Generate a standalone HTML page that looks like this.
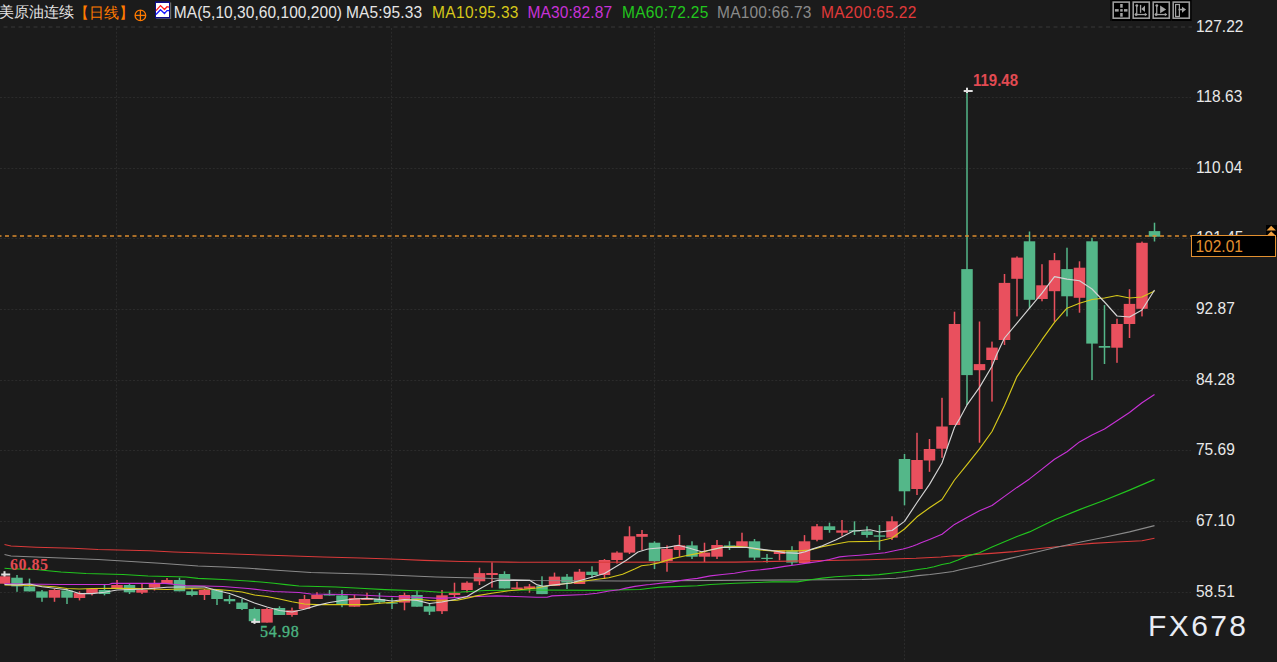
<!DOCTYPE html>
<html><head><meta charset="utf-8">
<style>
html,body{margin:0;padding:0;background:#1b1b1b;width:1277px;height:662px;overflow:hidden;}
body{position:relative;font-family:"Liberation Sans",sans-serif;}
svg.chart{position:absolute;left:0;top:0;}
.t{position:absolute;white-space:nowrap;line-height:1;}
.ax{position:absolute;left:1196px;color:#e8e8e8;font-size:15.5px;line-height:1;transform:scaleY(1.12);transform-origin:0 50%;}
</style></head><body>
<svg class="chart" width="1277" height="662" viewBox="0 0 1277 662">
<line x1="0" y1="27" x2="1192" y2="27" stroke="#2f2f2f" stroke-width="1.6" stroke-dasharray="4 3.5" stroke-dashoffset="4"/>
<line x1="0" y1="97.5" x2="1191" y2="97.5" stroke="#2b2b2b" stroke-width="1" stroke-dasharray="2 1.8"/>
<line x1="0" y1="168.5" x2="1191" y2="168.5" stroke="#2b2b2b" stroke-width="1" stroke-dasharray="2 1.8"/>
<line x1="0" y1="238.5" x2="1191" y2="238.5" stroke="#2b2b2b" stroke-width="1" stroke-dasharray="2 1.8"/>
<line x1="0" y1="309.5" x2="1191" y2="309.5" stroke="#2b2b2b" stroke-width="1" stroke-dasharray="2 1.8"/>
<line x1="0" y1="380.5" x2="1191" y2="380.5" stroke="#2b2b2b" stroke-width="1" stroke-dasharray="2 1.8"/>
<line x1="0" y1="450.5" x2="1191" y2="450.5" stroke="#2b2b2b" stroke-width="1" stroke-dasharray="2 1.8"/>
<line x1="0" y1="521.5" x2="1191" y2="521.5" stroke="#2b2b2b" stroke-width="1" stroke-dasharray="2 1.8"/>
<line x1="0" y1="592.5" x2="1191" y2="592.5" stroke="#2b2b2b" stroke-width="1" stroke-dasharray="2 1.8"/>
<line x1="116.5" y1="28" x2="116.5" y2="662" stroke="#2b2b2b" stroke-width="1" stroke-dasharray="2 1.75"/>
<line x1="391.5" y1="28" x2="391.5" y2="662" stroke="#2b2b2b" stroke-width="1" stroke-dasharray="2 1.75"/>
<line x1="654.5" y1="28" x2="654.5" y2="662" stroke="#2b2b2b" stroke-width="1" stroke-dasharray="2 1.75"/>
<line x1="904.5" y1="28" x2="904.5" y2="662" stroke="#2b2b2b" stroke-width="1" stroke-dasharray="2 1.75"/>
<rect x="3.75" y="574.5" width="1.5" height="9.5" fill="#e9505e"/>
<rect x="-1.25" y="576.3" width="11.5" height="7.4" fill="#e9505e"/>
<rect x="16.25" y="575.0" width="1.5" height="16.8" fill="#54b789"/>
<rect x="11.25" y="577.7" width="11.5" height="8.7" fill="#54b789"/>
<rect x="28.75" y="578.6" width="1.5" height="12.8" fill="#54b789"/>
<rect x="23.75" y="586.4" width="11.5" height="5.0" fill="#54b789"/>
<rect x="41.25" y="590.0" width="1.5" height="11.8" fill="#54b789"/>
<rect x="36.25" y="591.4" width="11.5" height="6.3" fill="#54b789"/>
<rect x="53.75" y="589.0" width="1.5" height="12.8" fill="#e9505e"/>
<rect x="48.75" y="590.0" width="11.5" height="7.7" fill="#e9505e"/>
<rect x="66.25" y="589.0" width="1.5" height="15.0" fill="#54b789"/>
<rect x="61.25" y="590.5" width="11.5" height="7.2" fill="#54b789"/>
<rect x="78.75" y="591.3" width="1.5" height="9.1" fill="#e9505e"/>
<rect x="73.75" y="593.1" width="11.5" height="4.9" fill="#e9505e"/>
<rect x="91.25" y="589.0" width="1.5" height="6.4" fill="#e9505e"/>
<rect x="86.25" y="589.0" width="11.5" height="4.1" fill="#e9505e"/>
<rect x="103.75" y="585.0" width="1.5" height="10.4" fill="#54b789"/>
<rect x="98.75" y="590.0" width="11.5" height="4.0" fill="#54b789"/>
<rect x="116.25" y="580.0" width="1.5" height="9.0" fill="#e9505e"/>
<rect x="111.25" y="585.0" width="11.5" height="4.0" fill="#e9505e"/>
<rect x="128.75" y="584.0" width="1.5" height="10.0" fill="#54b789"/>
<rect x="123.75" y="585.0" width="11.5" height="7.3" fill="#54b789"/>
<rect x="141.25" y="583.6" width="1.5" height="10.4" fill="#e9505e"/>
<rect x="136.25" y="590.0" width="11.5" height="2.7" fill="#e9505e"/>
<rect x="153.75" y="580.0" width="1.5" height="10.5" fill="#e9505e"/>
<rect x="148.75" y="584.0" width="11.5" height="3.7" fill="#e9505e"/>
<rect x="166.25" y="578.0" width="1.5" height="6.0" fill="#e9505e"/>
<rect x="161.25" y="580.0" width="11.5" height="4.0" fill="#e9505e"/>
<rect x="178.75" y="577.7" width="1.5" height="13.6" fill="#54b789"/>
<rect x="173.75" y="580.0" width="11.5" height="11.3" fill="#54b789"/>
<rect x="191.25" y="589.0" width="1.5" height="7.3" fill="#54b789"/>
<rect x="186.25" y="591.3" width="11.5" height="3.7" fill="#54b789"/>
<rect x="203.75" y="589.0" width="1.5" height="11.0" fill="#e9505e"/>
<rect x="198.75" y="590.0" width="11.5" height="5.0" fill="#e9505e"/>
<rect x="216.25" y="590.0" width="1.5" height="15.0" fill="#54b789"/>
<rect x="211.25" y="590.0" width="11.5" height="9.0" fill="#54b789"/>
<rect x="228.75" y="595.0" width="1.5" height="9.0" fill="#54b789"/>
<rect x="223.75" y="599.0" width="11.5" height="2.3" fill="#54b789"/>
<rect x="241.25" y="599.0" width="1.5" height="11.0" fill="#54b789"/>
<rect x="236.25" y="602.6" width="11.5" height="6.4" fill="#54b789"/>
<rect x="253.75" y="607.6" width="1.5" height="14.4" fill="#54b789"/>
<rect x="248.75" y="609.0" width="11.5" height="12.2" fill="#54b789"/>
<rect x="266.25" y="608.0" width="1.5" height="14.6" fill="#e9505e"/>
<rect x="261.25" y="609.0" width="11.5" height="13.6" fill="#e9505e"/>
<rect x="278.75" y="606.3" width="1.5" height="8.7" fill="#54b789"/>
<rect x="273.75" y="608.0" width="11.5" height="7.0" fill="#54b789"/>
<rect x="291.25" y="607.6" width="1.5" height="9.1" fill="#e9505e"/>
<rect x="286.25" y="610.3" width="11.5" height="4.7" fill="#e9505e"/>
<rect x="303.75" y="595.0" width="1.5" height="14.0" fill="#e9505e"/>
<rect x="298.75" y="599.0" width="11.5" height="10.0" fill="#e9505e"/>
<rect x="316.25" y="592.2" width="1.5" height="6.8" fill="#e9505e"/>
<rect x="311.25" y="595.0" width="11.5" height="4.0" fill="#e9505e"/>
<rect x="328.75" y="590.0" width="1.5" height="5.5" fill="#54b789"/>
<rect x="323.75" y="594.0" width="11.5" height="1.5" fill="#54b789"/>
<rect x="341.25" y="590.0" width="1.5" height="17.2" fill="#54b789"/>
<rect x="336.25" y="595.4" width="11.5" height="9.6" fill="#54b789"/>
<rect x="353.75" y="595.0" width="1.5" height="11.7" fill="#e9505e"/>
<rect x="348.75" y="598.0" width="11.5" height="8.7" fill="#e9505e"/>
<rect x="366.25" y="592.7" width="1.5" height="7.3" fill="#e9505e"/>
<rect x="361.25" y="598.0" width="11.5" height="2.0" fill="#e9505e"/>
<rect x="378.75" y="592.7" width="1.5" height="11.3" fill="#54b789"/>
<rect x="373.75" y="599.0" width="11.5" height="3.2" fill="#54b789"/>
<rect x="391.25" y="597.6" width="1.5" height="11.4" fill="#54b789"/>
<rect x="386.25" y="602.5" width="11.5" height="1.2" fill="#54b789"/>
<rect x="403.75" y="592.7" width="1.5" height="17.6" fill="#e9505e"/>
<rect x="398.75" y="595.0" width="11.5" height="7.6" fill="#e9505e"/>
<rect x="416.25" y="590.8" width="1.5" height="15.9" fill="#54b789"/>
<rect x="411.25" y="595.0" width="11.5" height="11.7" fill="#54b789"/>
<rect x="428.75" y="603.0" width="1.5" height="12.0" fill="#54b789"/>
<rect x="423.75" y="606.2" width="11.5" height="5.5" fill="#54b789"/>
<rect x="441.25" y="590.0" width="1.5" height="24.0" fill="#e9505e"/>
<rect x="436.25" y="595.3" width="11.5" height="15.9" fill="#e9505e"/>
<rect x="453.75" y="582.7" width="1.5" height="14.9" fill="#e9505e"/>
<rect x="448.75" y="593.0" width="11.5" height="2.0" fill="#e9505e"/>
<rect x="466.25" y="581.3" width="1.5" height="11.3" fill="#e9505e"/>
<rect x="461.25" y="582.7" width="11.5" height="7.3" fill="#e9505e"/>
<rect x="478.75" y="567.7" width="1.5" height="17.3" fill="#e9505e"/>
<rect x="473.75" y="573.1" width="11.5" height="8.2" fill="#e9505e"/>
<rect x="491.25" y="562.3" width="1.5" height="25.3" fill="#e9505e"/>
<rect x="486.25" y="573.0" width="11.5" height="2.0" fill="#e9505e"/>
<rect x="503.75" y="571.3" width="1.5" height="17.2" fill="#54b789"/>
<rect x="498.75" y="574.0" width="11.5" height="14.5" fill="#54b789"/>
<rect x="516.25" y="581.8" width="1.5" height="7.2" fill="#e9505e"/>
<rect x="511.25" y="587.5" width="11.5" height="1.5" fill="#e9505e"/>
<rect x="528.75" y="584.0" width="1.5" height="8.7" fill="#e9505e"/>
<rect x="523.75" y="586.4" width="11.5" height="2.4" fill="#e9505e"/>
<rect x="541.25" y="576.3" width="1.5" height="17.8" fill="#54b789"/>
<rect x="536.25" y="585.9" width="11.5" height="8.2" fill="#54b789"/>
<rect x="553.75" y="572.6" width="1.5" height="13.3" fill="#e9505e"/>
<rect x="548.75" y="576.6" width="11.5" height="9.3" fill="#e9505e"/>
<rect x="566.25" y="574.0" width="1.5" height="15.0" fill="#54b789"/>
<rect x="561.25" y="576.7" width="11.5" height="5.9" fill="#54b789"/>
<rect x="578.75" y="569.0" width="1.5" height="15.0" fill="#e9505e"/>
<rect x="573.75" y="571.7" width="11.5" height="12.3" fill="#e9505e"/>
<rect x="591.25" y="566.3" width="1.5" height="11.7" fill="#54b789"/>
<rect x="586.25" y="571.7" width="11.5" height="3.3" fill="#54b789"/>
<rect x="603.75" y="559.0" width="1.5" height="20.0" fill="#e9505e"/>
<rect x="598.75" y="560.0" width="11.5" height="15.0" fill="#e9505e"/>
<rect x="616.25" y="551.3" width="1.5" height="12.2" fill="#e9505e"/>
<rect x="611.25" y="552.6" width="11.5" height="7.4" fill="#e9505e"/>
<rect x="628.75" y="526.3" width="1.5" height="27.7" fill="#e9505e"/>
<rect x="623.75" y="536.3" width="11.5" height="16.3" fill="#e9505e"/>
<rect x="641.25" y="530.0" width="1.5" height="20.0" fill="#e9505e"/>
<rect x="636.25" y="534.0" width="11.5" height="2.8" fill="#e9505e"/>
<rect x="653.75" y="541.3" width="1.5" height="27.7" fill="#54b789"/>
<rect x="648.75" y="542.7" width="11.5" height="18.5" fill="#54b789"/>
<rect x="666.25" y="545.4" width="1.5" height="26.3" fill="#e9505e"/>
<rect x="661.25" y="549.0" width="11.5" height="12.2" fill="#e9505e"/>
<rect x="678.75" y="535.0" width="1.5" height="21.7" fill="#e9505e"/>
<rect x="673.75" y="545.4" width="11.5" height="4.6" fill="#e9505e"/>
<rect x="691.25" y="541.3" width="1.5" height="17.7" fill="#54b789"/>
<rect x="686.25" y="545.4" width="11.5" height="11.3" fill="#54b789"/>
<rect x="703.75" y="542.7" width="1.5" height="19.3" fill="#e9505e"/>
<rect x="698.75" y="552.6" width="11.5" height="4.1" fill="#e9505e"/>
<rect x="716.25" y="540.0" width="1.5" height="19.0" fill="#e9505e"/>
<rect x="711.25" y="545.0" width="11.5" height="11.7" fill="#e9505e"/>
<rect x="728.75" y="541.3" width="1.5" height="8.7" fill="#54b789"/>
<rect x="723.75" y="545.4" width="11.5" height="2.6" fill="#54b789"/>
<rect x="741.25" y="532.7" width="1.5" height="14.0" fill="#e9505e"/>
<rect x="736.25" y="541.3" width="11.5" height="5.4" fill="#e9505e"/>
<rect x="753.75" y="539.0" width="1.5" height="21.0" fill="#54b789"/>
<rect x="748.75" y="541.3" width="11.5" height="16.3" fill="#54b789"/>
<rect x="766.25" y="554.0" width="1.5" height="8.6" fill="#54b789"/>
<rect x="761.25" y="557.8" width="11.5" height="1.2" fill="#54b789"/>
<rect x="778.75" y="550.4" width="1.5" height="9.9" fill="#e9505e"/>
<rect x="773.75" y="550.4" width="11.5" height="3.6" fill="#e9505e"/>
<rect x="791.25" y="546.2" width="1.5" height="18.7" fill="#54b789"/>
<rect x="786.25" y="550.5" width="11.5" height="12.1" fill="#54b789"/>
<rect x="803.75" y="535.1" width="1.5" height="28.1" fill="#e9505e"/>
<rect x="798.75" y="541.3" width="11.5" height="21.9" fill="#e9505e"/>
<rect x="816.25" y="524.0" width="1.5" height="17.3" fill="#e9505e"/>
<rect x="811.25" y="526.3" width="11.5" height="13.5" fill="#e9505e"/>
<rect x="828.75" y="522.7" width="1.5" height="10.0" fill="#54b789"/>
<rect x="823.75" y="526.3" width="11.5" height="3.7" fill="#54b789"/>
<rect x="841.25" y="520.0" width="1.5" height="15.8" fill="#e9505e"/>
<rect x="836.25" y="530.4" width="11.5" height="2.3" fill="#e9505e"/>
<rect x="853.75" y="521.3" width="1.5" height="13.7" fill="#54b789"/>
<rect x="848.75" y="530.3" width="11.5" height="1.2" fill="#54b789"/>
<rect x="866.25" y="526.3" width="1.5" height="11.3" fill="#54b789"/>
<rect x="861.25" y="531.3" width="11.5" height="3.7" fill="#54b789"/>
<rect x="878.75" y="525.0" width="1.5" height="25.0" fill="#54b789"/>
<rect x="873.75" y="535.4" width="11.5" height="1.3" fill="#54b789"/>
<rect x="891.25" y="516.3" width="1.5" height="23.7" fill="#e9505e"/>
<rect x="886.25" y="521.3" width="11.5" height="16.3" fill="#e9505e"/>
<rect x="903.75" y="454.0" width="1.5" height="51.3" fill="#54b789"/>
<rect x="898.75" y="459.0" width="11.5" height="32.3" fill="#54b789"/>
<rect x="916.25" y="432.8" width="1.5" height="62.2" fill="#e9505e"/>
<rect x="911.25" y="460.0" width="11.5" height="29.0" fill="#e9505e"/>
<rect x="928.75" y="439.0" width="1.5" height="32.8" fill="#e9505e"/>
<rect x="923.75" y="449.0" width="11.5" height="11.5" fill="#e9505e"/>
<rect x="941.25" y="397.8" width="1.5" height="60.0" fill="#e9505e"/>
<rect x="936.25" y="426.5" width="11.5" height="22.2" fill="#e9505e"/>
<rect x="953.75" y="311.7" width="1.5" height="113.3" fill="#e9505e"/>
<rect x="948.75" y="324.0" width="11.5" height="101.0" fill="#e9505e"/>
<rect x="966.25" y="90.0" width="1.5" height="315.0" fill="#54b789"/>
<rect x="961.25" y="269.1" width="11.5" height="106.0" fill="#54b789"/>
<rect x="978.75" y="321.5" width="1.5" height="121.2" fill="#e9505e"/>
<rect x="973.75" y="364.1" width="11.5" height="6.1" fill="#e9505e"/>
<rect x="991.25" y="341.6" width="1.5" height="60.0" fill="#e9505e"/>
<rect x="986.25" y="347.6" width="11.5" height="12.4" fill="#e9505e"/>
<rect x="1003.75" y="274.0" width="1.5" height="71.0" fill="#e9505e"/>
<rect x="998.75" y="282.9" width="11.5" height="57.1" fill="#e9505e"/>
<rect x="1016.25" y="256.4" width="1.5" height="60.0" fill="#e9505e"/>
<rect x="1011.25" y="257.6" width="11.5" height="21.2" fill="#e9505e"/>
<rect x="1028.75" y="231.5" width="1.5" height="77.0" fill="#54b789"/>
<rect x="1023.75" y="241.3" width="11.5" height="58.5" fill="#54b789"/>
<rect x="1041.25" y="264.2" width="1.5" height="37.1" fill="#e9505e"/>
<rect x="1036.25" y="285.3" width="11.5" height="13.7" fill="#e9505e"/>
<rect x="1053.75" y="253.0" width="1.5" height="68.7" fill="#e9505e"/>
<rect x="1048.75" y="260.2" width="11.5" height="31.0" fill="#e9505e"/>
<rect x="1066.25" y="247.7" width="1.5" height="68.7" fill="#54b789"/>
<rect x="1061.25" y="269.1" width="11.5" height="27.2" fill="#54b789"/>
<rect x="1078.75" y="261.3" width="1.5" height="51.4" fill="#e9505e"/>
<rect x="1073.75" y="267.7" width="11.5" height="30.1" fill="#e9505e"/>
<rect x="1091.25" y="237.8" width="1.5" height="142.2" fill="#54b789"/>
<rect x="1086.25" y="241.3" width="11.5" height="102.3" fill="#54b789"/>
<rect x="1103.75" y="305.1" width="1.5" height="58.9" fill="#54b789"/>
<rect x="1098.75" y="346.0" width="11.5" height="1.7" fill="#54b789"/>
<rect x="1116.25" y="318.7" width="1.5" height="44.1" fill="#e9505e"/>
<rect x="1111.25" y="324.0" width="11.5" height="23.7" fill="#e9505e"/>
<rect x="1128.75" y="289.2" width="1.5" height="48.8" fill="#e9505e"/>
<rect x="1123.75" y="303.9" width="11.5" height="20.1" fill="#e9505e"/>
<rect x="1141.25" y="241.6" width="1.5" height="74.8" fill="#e9505e"/>
<rect x="1136.25" y="242.8" width="11.5" height="66.0" fill="#e9505e"/>
<rect x="1153.75" y="222.7" width="1.5" height="18.8" fill="#54b789"/>
<rect x="1148.75" y="231.1" width="11.5" height="5.6" fill="#54b789"/>
<polyline points="4.5,544.5 11.0,546.0 36.0,547.2 73.0,548.3 98.0,549.5 150.0,550.7 173.5,552.0 211.0,553.3 248.0,554.5 286.0,555.8 323.0,557.0 361.0,558.0 398.0,559.2 424.0,560.4 461.0,561.5 520.0,562.2 735.0,562.1 868.0,559.7 916.0,558.3 941.0,557.0 954.0,555.8 960.5,555.8 972.5,554.6 995.0,553.1 1014.0,551.6 1029.5,549.8 1042.0,548.2 1054.5,547.0 1067.0,545.8 1079.5,544.5 1092.0,543.4 1117.0,542.0 1142.0,540.7 1154.5,538.3" fill="none" stroke="#d93a3a" stroke-width="1.15" stroke-linejoin="round"/>
<polyline points="4.5,554.5 11.0,556.0 36.0,557.0 98.0,559.5 160.0,563.3 198.0,566.0 224.0,567.0 249.0,568.3 273.0,570.0 311.0,572.5 373.0,574.3 436.0,577.0 486.0,578.3 535.0,580.5 621.0,581.0 862.0,579.5 896.0,578.2 910.0,576.8 918.0,575.6 930.0,574.5 942.0,573.0 953.0,571.5 960.0,569.8 981.6,565.2 1010.0,558.4 1029.5,553.8 1054.5,547.8 1079.5,542.2 1104.5,537.2 1129.5,531.9 1154.5,525.6" fill="none" stroke="#8a8a8a" stroke-width="1.15" stroke-linejoin="round"/>
<polyline points="4.5,568.3 11.0,568.8 36.0,569.5 48.0,570.7 61.0,572.0 86.0,573.5 123.0,574.5 148.0,576.0 186.0,577.0 198.0,578.4 223.0,579.5 248.0,581.0 261.0,582.0 274.0,583.3 286.0,584.6 299.0,586.0 336.0,587.0 360.0,588.3 385.0,589.6 423.0,591.0 440.0,592.2 461.0,592.0 486.0,590.5 530.0,590.0 600.0,590.3 640.0,589.5 650.0,588.3 660.3,587.1 697.4,585.7 710.3,584.5 735.3,583.3 772.4,581.9 797.4,581.9 810.3,579.7 822.4,578.1 835.3,576.7 859.5,575.3 870.0,575.3 879.0,574.6 891.0,573.2 902.0,572.0 910.0,570.7 918.0,569.5 927.0,568.2 934.0,566.8 942.0,564.5 950.0,563.0 958.0,560.0 967.0,556.1 979.5,552.8 992.0,547.0 1004.5,541.8 1017.0,536.5 1029.5,531.9 1054.5,519.8 1079.5,509.6 1104.5,500.2 1129.5,490.1 1154.5,479.4" fill="none" stroke="#22c51e" stroke-width="1.15" stroke-linejoin="round"/>
<polyline points="4.5,583.7 60.0,584.5 109.0,584.5 112.0,583.4 165.0,583.4 175.0,584.5 186.0,585.5 223.0,586.5 248.0,588.5 261.0,590.0 274.0,591.5 299.0,592.5 311.0,594.0 345.0,594.5 360.0,595.0 385.0,596.3 423.0,597.5 440.0,598.4 469.3,596.7 497.0,595.9 536.5,597.2 547.0,597.2 552.0,595.9 585.0,594.5 597.0,593.3 609.0,591.0 619.3,589.8 626.0,588.1 635.0,586.4 647.0,584.7 650.0,584.5 672.4,581.9 685.3,579.7 697.4,578.4 710.3,575.9 722.4,574.5 734.5,573.3 747.4,571.0 760.3,569.8 772.4,568.4 784.5,566.4 796.6,564.7 808.6,562.9 820.7,561.2 829.3,559.5 839.7,556.9 848.3,556.0 859.5,555.2 870.0,554.3 885.0,552.8 892.0,551.2 898.0,550.0 903.0,549.0 908.5,547.5 913.0,546.0 917.0,544.5 921.0,542.8 929.5,539.5 942.0,534.2 954.5,524.4 967.0,517.6 979.5,510.8 992.0,505.5 1004.5,496.4 1017.0,487.4 1029.5,478.9 1042.0,469.1 1054.5,459.3 1067.0,451.8 1079.5,441.9 1092.0,435.1 1104.5,429.1 1117.0,420.8 1129.5,412.5 1142.0,402.7 1154.5,394.4" fill="none" stroke="#c832d6" stroke-width="1.15" stroke-linejoin="round"/>
<polyline points="4.5,585.0 29.5,585.5 42.0,586.0 54.5,586.8 67.0,588.5 79.5,589.0 92.0,588.5 117.0,588.2 142.0,588.6 167.0,589.5 192.0,588.5 217.0,589.5 229.5,590.5 242.0,592.0 254.5,595.0 267.0,596.5 279.5,599.0 292.0,601.8 304.5,604.0 317.0,604.6 342.0,604.6 367.0,604.6 379.5,603.3 392.0,602.4 404.5,600.5 417.0,599.3 429.5,600.5 440.0,601.0 457.2,600.2 469.3,597.6 476.0,595.9 491.7,593.3 509.0,590.7 536.5,588.0 550.0,585.5 571.0,583.0 590.0,580.3 608.8,577.7 622.6,574.3 634.6,569.0 641.5,565.7 650.0,564.7 658.6,562.9 672.4,558.6 684.5,556.0 698.3,553.4 710.3,550.0 722.4,547.4 736.2,546.2 748.3,547.4 760.3,550.0 772.4,550.9 798.3,550.9 810.3,550.0 822.4,546.6 836.2,544.0 848.3,541.7 870.0,541.4 879.5,541.0 892.0,538.0 904.5,529.0 917.0,516.8 929.5,507.8 942.0,499.5 954.5,480.0 967.0,464.7 979.5,448.9 992.0,431.5 1004.5,405.5 1017.0,376.6 1029.5,358.0 1042.0,339.7 1054.5,322.3 1067.0,308.2 1079.5,303.2 1092.0,299.5 1104.5,298.0 1117.0,295.5 1129.5,298.0 1142.0,297.0 1154.5,291.0" fill="none" stroke="#d6c81a" stroke-width="1.15" stroke-linejoin="round"/>
<polyline points="4.5,584.5 17.0,585.0 29.5,584.0 42.0,586.8 54.5,588.2 67.0,589.8 73.0,591.5 79.5,593.6 92.0,593.6 104.5,592.3 117.0,590.0 129.5,589.5 142.0,589.1 154.5,588.2 167.0,587.3 179.5,587.0 192.0,587.0 204.5,587.0 217.0,590.5 229.5,593.5 242.0,598.0 254.5,603.0 267.0,607.0 279.5,610.5 292.0,612.0 304.5,609.3 317.0,605.4 329.5,602.5 342.0,600.5 354.5,599.0 367.0,598.4 379.5,599.4 392.0,601.0 404.5,599.5 417.0,600.4 429.5,603.5 442.0,602.0 454.5,599.5 467.0,596.5 479.5,589.0 492.0,582.0 498.0,580.3 529.5,580.3 536.5,584.6 543.0,586.3 557.0,584.6 571.0,583.0 590.0,577.7 604.5,573.5 612.0,569.0 626.0,560.5 638.0,552.0 647.0,549.3 650.0,548.8 667.2,547.4 678.4,545.2 689.7,548.3 701.7,551.7 710.3,550.0 722.4,547.4 746.6,547.4 760.3,549.1 774.1,550.9 784.5,552.6 798.3,553.4 805.2,551.7 812.0,549.1 822.4,545.7 836.2,539.7 853.4,531.0 870.0,529.7 879.5,532.0 892.0,530.5 904.5,521.4 917.0,502.5 929.5,484.4 942.0,463.0 948.3,444.8 954.5,427.3 959.9,418.2 967.0,404.9 979.5,387.4 992.0,366.3 996.6,354.7 1004.5,338.0 1017.0,323.1 1029.5,308.2 1042.0,293.2 1054.5,276.6 1067.0,279.1 1079.5,280.8 1092.0,289.0 1104.5,302.0 1117.0,316.0 1129.5,317.0 1142.0,310.0 1154.5,290.0" fill="none" stroke="#d4d4d4" stroke-width="1.15" stroke-linejoin="round"/>
<line x1="0" y1="236" x2="1191" y2="236" stroke="#dc8c2e" stroke-width="1.6" stroke-dasharray="4 3.5" stroke-dashoffset="2.5"/>
<rect x="1.2" y="573.5" width="9" height="2" fill="#e0e0e0"/><rect x="3.5" y="571.2" width="2" height="5.3" fill="#e0e0e0"/>
<rect x="963.7" y="90.0" width="9" height="2" fill="#e0e0e0"/><rect x="966.0" y="87.7" width="2" height="5.3" fill="#e0e0e0"/>
<rect x="251.2" y="620.9" width="9" height="2" fill="#e0e0e0"/><rect x="253.5" y="618.6" width="2" height="5.3" fill="#e0e0e0"/>
</svg>
<div class="t" style="left:-1px;top:4px;font-size:15px;color:#e6e6e6;">美原油连续</div>
<div class="t" style="left:73.5px;top:4.5px;font-size:15px;color:#ff7a00;">【日线】</div>
<svg style="position:absolute;left:134px;top:8.5px" width="13" height="13"><circle cx="6.4" cy="6.4" r="5.3" fill="none" stroke="#ff7a00" stroke-width="1.3"/><line x1="1" y1="6.4" x2="11.8" y2="6.4" stroke="#ff7a00" stroke-width="1.3"/><line x1="6.4" y1="1" x2="6.4" y2="11.8" stroke="#ff7a00" stroke-width="1.3"/></svg>
<svg style="position:absolute;left:155px;top:1px" width="17" height="19"><rect x="1.2" y="1.5" width="15" height="16.5" fill="#6a6a6a"/><rect x="0" y="0.4" width="15" height="17" fill="#0c0c8a"/><rect x="1" y="2" width="13" height="14" fill="#fff"/><polyline points="1,9.6 5.5,4.6 9.5,8.5 12,5.7 14,6.1" fill="none" stroke="#ff1a1a" stroke-width="1.3"/><polyline points="1,13.5 5.5,8.7 9.5,12.5 12,9.6 14,9.6" fill="none" stroke="#1a1aff" stroke-width="1.3"/></svg>
<div class="t" style="left:173.8px;top:4.2px;font-size:15.5px;letter-spacing:0.05px;transform:scaleY(1.1);transform-origin:0 0;color:#e6e6e6;">MA(5,10,30,60,100,200)</div>
<div class="t" style="left:346px;top:4.2px;font-size:15.5px;letter-spacing:0.13px;transform:scaleY(1.1);transform-origin:0 0;color:#e6e6e6;">MA5:95.33</div>
<div class="t" style="left:432.1px;top:4.2px;font-size:15.5px;letter-spacing:0.31px;transform:scaleY(1.1);transform-origin:0 0;color:#d6c81a;">MA10:95.33</div>
<div class="t" style="left:527.5px;top:4.2px;font-size:15.5px;letter-spacing:0.11px;transform:scaleY(1.1);transform-origin:0 0;color:#c832d6;">MA30:82.87</div>
<div class="t" style="left:622px;top:4.2px;font-size:15.5px;letter-spacing:0.3px;transform:scaleY(1.1);transform-origin:0 0;color:#22c51e;">MA60:72.25</div>
<div class="t" style="left:717px;top:4.2px;font-size:15.5px;letter-spacing:0.22px;transform:scaleY(1.1);transform-origin:0 0;color:#8a8a8a;">MA100:66.73</div>
<div class="t" style="left:820.9px;top:4.2px;font-size:15.5px;letter-spacing:0.33px;transform:scaleY(1.1);transform-origin:0 0;color:#e03a3a;">MA200:65.22</div>
<div class="ax" style="top:17.5px">127.22</div>
<div class="ax" style="top:88.1px">118.63</div>
<div class="ax" style="top:158.8px">110.04</div>
<div class="ax" style="top:229.4px">101.45</div>
<div class="ax" style="top:300.0px">92.87</div>
<div class="ax" style="top:370.6px">84.28</div>
<div class="ax" style="top:441.2px">75.69</div>
<div class="ax" style="top:511.9px">67.10</div>
<div class="ax" style="top:582.5px">58.51</div>

<svg style="position:absolute;left:1266px;top:224.5px" width="11" height="12"><rect width="11" height="12" fill="#000"/><polygon points="0.5,5.5 5.2,0.7 10,5.5" fill="#eea040"/><polygon points="0.5,11 5.2,6.3 10,11" fill="#eea040"/></svg>
<div style="position:absolute;left:1191px;top:235px;width:83px;height:20px;border:1.5px solid #e39030;background:#000;"></div>
<div class="t" style="left:1195.5px;top:237.7px;font-size:15.5px;transform:scaleY(1.08);transform-origin:0 0;color:#e39030;">102.01</div>
<div class="t" style="left:973px;top:72.3px;font-size:15px;font-weight:bold;transform:scaleY(1.06);transform-origin:0 0;color:#e24a52;">119.48</div>
<div class="t" style="left:10px;top:557px;font-family:'Liberation Serif',serif;font-size:16px;font-weight:bold;letter-spacing:0.5px;color:#e24a52;">60.85</div>
<div class="t" style="left:260px;top:624px;font-family:'Liberation Serif',serif;font-size:16px;letter-spacing:0.7px;-webkit-text-stroke:0.35px #4cb582;color:#4cb582;">54.98</div>
<div class="t" style="left:1148px;top:611px;font-size:30px;color:#e8ecf4;letter-spacing:2.4px;">FX678</div>
<div style="position:absolute;left:1110px;top:0px;width:82px;height:21px;background:#0a0a0a;"></div><div style="position:absolute;left:1111.5px;top:0px;width:19.5px;height:20.5px;background:#000;"></div><div style="position:absolute;left:1131.5px;top:0px;width:19.5px;height:20.5px;background:#000;"></div><div style="position:absolute;left:1151.5px;top:0px;width:19.5px;height:20.5px;background:#000;"></div><div style="position:absolute;left:1171.5px;top:0px;width:19.5px;height:20.5px;background:#000;"></div><svg style="position:absolute;left:1112px;top:1px" width="80" height="19" fill="#a4a4a4">
<rect x="1.2" y="1.1" width="16.1" height="16.1" fill="#000" stroke="#9c9c9c" stroke-width="1.6"/><rect x="21.2" y="1.1" width="16.1" height="16.1" fill="#000" stroke="#9c9c9c" stroke-width="1.6"/><rect x="41.2" y="1.1" width="16.1" height="16.1" fill="#000" stroke="#9c9c9c" stroke-width="1.6"/><rect x="61.2" y="1.1" width="16.1" height="16.1" fill="#000" stroke="#9c9c9c" stroke-width="1.6"/>
<rect x="8.2" y="3" width="2.5" height="3.7"/><rect x="8.2" y="12" width="2.5" height="3.7"/><rect x="2.9" y="8.1" width="3.8" height="2.5"/><rect x="12" y="8.1" width="3.5" height="2.5"/><rect x="8.2" y="8.1" width="2.5" height="2.5"/>
<g transform="translate(20,0)"><rect x="4.1" y="4" width="1.3" height="10.5"/><circle cx="4.8" cy="4.6" r="1.4"/><rect x="3" y="12.9" width="11.5" height="1.3"/><polygon points="15.3,13.5 12.8,11.8 12.8,15.2"/><polygon points="2.3,13.5 4,11.8 5.7,13.5 4,15.2"/><rect x="7.9" y="3.9" width="1.3" height="7.9"/><polygon points="9.3,8 13,4.5 13,11"/></g>
<g transform="translate(40,0)"><rect x="4.1" y="4" width="1.3" height="10.5"/><circle cx="4.8" cy="4.6" r="1.4"/><rect x="3" y="12.9" width="11.5" height="1.3"/><polygon points="15.3,13.5 12.8,11.8 12.8,15.2"/><polygon points="2.3,13.5 4,11.8 5.7,13.5 4,15.2"/><polygon points="8.1,4.4 14.2,8.5 8.1,12.2"/></g>
<g transform="translate(60,0)"><rect x="3.6" y="3.5" width="3.8" height="12" fill="none" stroke="#a4a4a4" stroke-width="1.2"/><rect x="6.5" y="7.8" width="4.5" height="1.5"/><polygon points="10,5.7 14.1,8.5 10,11.7"/></g>
</svg></body></html>
